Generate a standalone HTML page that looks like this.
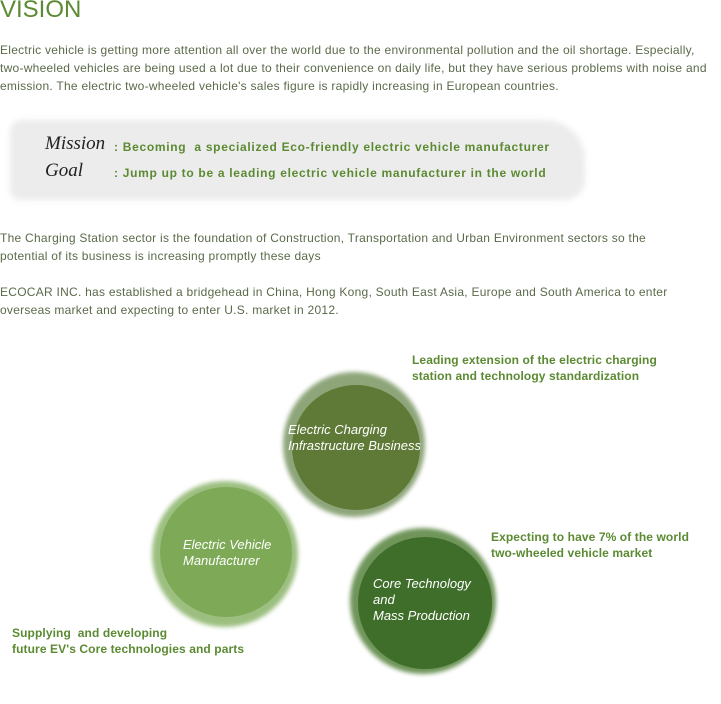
<!DOCTYPE html>
<html><head><meta charset="utf-8"><style>
body{margin:0;width:721px;height:704px;background:#fff;position:relative;font-family:"Liberation Sans",sans-serif;overflow:hidden}
.a{position:absolute;white-space:nowrap}
.p{font-size:12px;color:#5a6a4a;line-height:18px;left:0;letter-spacing:0.26px}
.g{font-size:12px;font-weight:bold;color:#5b8a32;line-height:16px;letter-spacing:0.1px}
.w{color:#fff;font-style:italic;font-size:13px;line-height:16px}
.blob{position:absolute;border-radius:50%}
</style></head><body>
<div class="a" style="left:0;top:-4px;font-size:24px;color:#5b8a32">VISION</div>
<div class="a p" style="top:41px">Electric vehicle is getting more attention all over the world due to the environmental pollution and the oil shortage. Especially,<br>two-wheeled vehicles are being used a lot due to their convenience on daily life, but they have serious problems with noise and<br>emission. The electric two-wheeled vehicle's sales figure is rapidly increasing in European countries.</div>
<div class="a" style="left:10px;top:120px;width:575px;height:80px;background:#ececec;border-radius:12px 40px 20px 10px;filter:blur(3px)"></div>
<div class="a" style="left:45px;top:133px;font-family:'Liberation Serif',serif;font-style:italic;font-size:19px;color:#222">Mission</div>
<div class="a" style="left:45px;top:160px;font-family:'Liberation Serif',serif;font-style:italic;font-size:19px;color:#222">Goal</div>
<div class="a g" style="left:114px;top:139px;letter-spacing:0.7px">: Becoming &nbsp;a specialized Eco-friendly electric vehicle manufacturer</div>
<div class="a g" style="left:114px;top:165px;letter-spacing:0.7px">: Jump up to be a leading electric vehicle manufacturer in the world</div>
<div class="a p" style="top:229px">The Charging Station sector is the foundation of Construction, Transportation and Urban Environment sectors so the<br>potential of its business is increasing promptly these days</div>
<div class="a p" style="top:283px">ECOCAR INC. has established a bridgehead in China, Hong Kong, South East Asia, Europe and South America to enter<br>overseas market and expecting to enter U.S. market in 2012.</div>
<div class="blob" style="left:283px;top:372px;width:142px;height:145px;background:#8ea57a;filter:blur(2px)"></div>
<div class="blob" style="left:292px;top:385px;width:128px;height:125px;background:#5e7a36"></div>
<div class="blob" style="left:152px;top:481px;width:146px;height:146px;background:#9cbf80;filter:blur(2px)"></div>
<div class="blob" style="left:160px;top:487px;width:132px;height:130px;background:#7eaa58"></div>
<div class="blob" style="left:350px;top:528px;width:146px;height:146px;background:#6f955a;filter:blur(2px)"></div>
<div class="blob" style="left:358px;top:537px;width:134px;height:132px;background:#3e6e2a"></div>
<div class="a w" style="left:288px;top:422px">Electric Charging<br>Infrastructure Business</div>
<div class="a w" style="left:183px;top:537px">Electric Vehicle<br>Manufacturer</div>
<div class="a w" style="left:373px;top:576px">Core Technology<br>and<br>Mass Production</div>
<div class="a g" style="left:412px;top:352px">Leading extension of the electric charging<br>station and technology standardization</div>
<div class="a g" style="left:491px;top:529px">Expecting to have 7% of the world<br>two-wheeled vehicle market</div>
<div class="a g" style="left:12px;top:625px">Supplying &nbsp;and developing<br>future EV's Core technologies and parts</div>
</body></html>
